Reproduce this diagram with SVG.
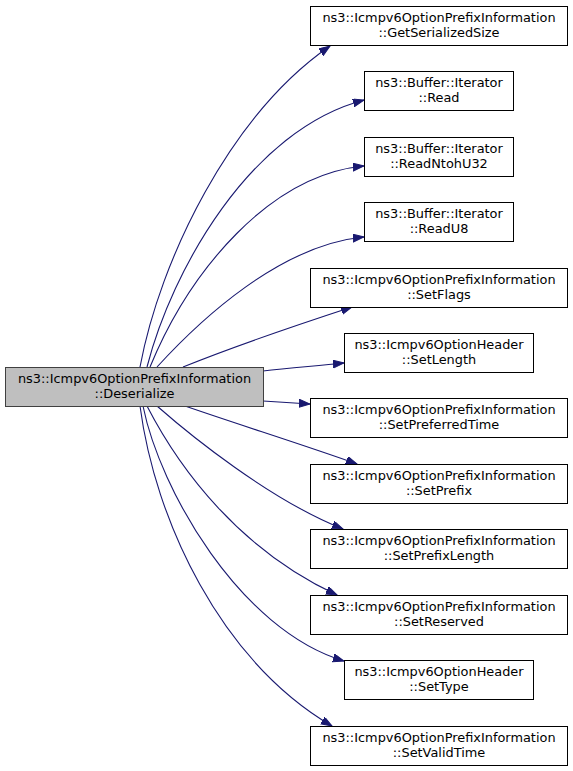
<svg xmlns="http://www.w3.org/2000/svg" width="573" height="771" viewBox="0 0 573 771">
<style>
.n rect{fill:#ffffff;stroke:#000000;stroke-width:1}
.cur rect{fill:#bfbfbf;stroke:#404040;stroke-width:1}
text{font-family:"DejaVu Sans","Liberation Sans",sans-serif;font-size:12.9px;fill:#000000;text-anchor:middle}
.e path{fill:none;stroke:#191970;stroke-width:1.1}
</style>
<defs>
<marker id="ah" markerUnits="userSpaceOnUse" markerWidth="12" markerHeight="10" refX="11" refY="4" orient="auto">
<path d="M0,0 L11,4 L0,8 z" fill="#191970" stroke="#191970" stroke-width="1"/>
</marker>
</defs>
<g id="edges" class="e">
<path d="M140,367 C160,260 230,115 330,46" marker-end="url(#ah)"/>
<path d="M147,367 C172,270 250,130 364,100" marker-end="url(#ah)"/>
<path d="M150,367 C190,270 270,175 364,166" marker-end="url(#ah)"/>
<path d="M157,367 C200,320 280,245 364,237" marker-end="url(#ah)"/>
<path d="M183,367 C230,348 300,324 352,307" marker-end="url(#ah)"/>
<path d="M263,371 C290,368 315,366 344,363" marker-end="url(#ah)"/>
<path d="M263,401 C280,402 295,403 310,404" marker-end="url(#ah)"/>
<path d="M185,406 C240,425 310,447 357,464" marker-end="url(#ah)"/>
<path d="M157,406 C190,435 270,500 343,529" marker-end="url(#ah)"/>
<path d="M147,406 C180,470 240,550 337,595" marker-end="url(#ah)"/>
<path d="M143,406 C160,490 240,630 344,661" marker-end="url(#ah)"/>
<path d="M140,406 C155,520 220,660 332,726" marker-end="url(#ah)"/>
</g>
<g id="node_main" class="cur">
<rect x="5.5" y="367.5" width="258" height="39"/>
<text x="134.5" y="382.5">ns3::Icmpv6OptionPrefixInformation</text>
<text x="134.5" y="397.5">::Deserialize</text>
</g>
<g id="node_getserializedsize" class="n">
<rect x="310.5" y="6.5" width="257" height="39"/>
<text x="439" y="21.5">ns3::Icmpv6OptionPrefixInformation</text>
<text x="439" y="36.5">::GetSerializedSize</text>
</g>
<g id="node_read" class="n">
<rect x="364.5" y="71.5" width="149" height="39"/>
<text x="439" y="86.5">ns3::Buffer::Iterator</text>
<text x="439" y="101.5">::Read</text>
</g>
<g id="node_readntohu32" class="n">
<rect x="364.5" y="137.5" width="149" height="39"/>
<text x="439" y="152.5">ns3::Buffer::Iterator</text>
<text x="439" y="167.5">::ReadNtohU32</text>
</g>
<g id="node_readu8" class="n">
<rect x="364.5" y="202.5" width="149" height="39"/>
<text x="439" y="217.5">ns3::Buffer::Iterator</text>
<text x="439" y="232.5">::ReadU8</text>
</g>
<g id="node_setflags" class="n">
<rect x="310.5" y="268.5" width="257" height="39"/>
<text x="439" y="283.5">ns3::Icmpv6OptionPrefixInformation</text>
<text x="439" y="298.5">::SetFlags</text>
</g>
<g id="node_setlength" class="n">
<rect x="344.5" y="333.5" width="189" height="39"/>
<text x="439" y="348.5">ns3::Icmpv6OptionHeader</text>
<text x="439" y="363.5">::SetLength</text>
</g>
<g id="node_setpreferredtime" class="n">
<rect x="310.5" y="398.5" width="257" height="39"/>
<text x="439" y="413.5">ns3::Icmpv6OptionPrefixInformation</text>
<text x="439" y="428.5">::SetPreferredTime</text>
</g>
<g id="node_setprefix" class="n">
<rect x="310.5" y="464.5" width="257" height="39"/>
<text x="439" y="479.5">ns3::Icmpv6OptionPrefixInformation</text>
<text x="439" y="494.5">::SetPrefix</text>
</g>
<g id="node_setprefixlength" class="n">
<rect x="310.5" y="529.5" width="257" height="39"/>
<text x="439" y="544.5">ns3::Icmpv6OptionPrefixInformation</text>
<text x="439" y="559.5">::SetPrefixLength</text>
</g>
<g id="node_setreserved" class="n">
<rect x="310.5" y="595.5" width="257" height="39"/>
<text x="439" y="610.5">ns3::Icmpv6OptionPrefixInformation</text>
<text x="439" y="625.5">::SetReserved</text>
</g>
<g id="node_settype" class="n">
<rect x="344.5" y="660.5" width="189" height="39"/>
<text x="439" y="675.5">ns3::Icmpv6OptionHeader</text>
<text x="439" y="690.5">::SetType</text>
</g>
<g id="node_setvalidtime" class="n">
<rect x="310.5" y="726.5" width="257" height="39"/>
<text x="439" y="741.5">ns3::Icmpv6OptionPrefixInformation</text>
<text x="439" y="756.5">::SetValidTime</text>
</g>
</svg>
